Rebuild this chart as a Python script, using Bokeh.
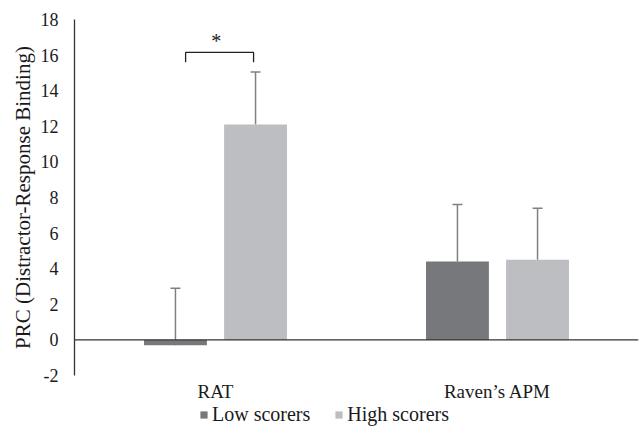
from bokeh.plotting import figure
from bokeh.layouts import column
from bokeh.models import (Range1d, FixedTicker, Span, Whisker, TeeHead, ColumnDataSource,
                          Legend, LegendItem, Label)
from bokeh.embed import file_html
from bokeh.resources import INLINE

# ---- data ----
categories = ["RAT", "Raven\u2019s APM"]
low_scores = [-0.3, 4.4]
high_scores = [12.1, 4.5]
low_err = [3.2, 3.2]
high_err = [2.95, 2.9]
y_ticks = [-2, 0, 2, 4, 6, 8, 10, 12, 14, 16, 18]
series_names = ["Low scorers", "High scorers"]

LOW_C = "#77787b"
HIGH_C = "#bdbec1"
ERR_C = "#808080"
AX_C = "#333333"
TXT_C = "#1a1a1a"
FONT = "Liberation Serif"

cat_x = [i + 0.5 for i in range(len(categories))]
off = 0.142
bw = 0.223
low_x = [c - off for c in cat_x]
high_x = [c + off for c in cat_x]

xr = Range1d(0, len(categories))

p = figure(width=640, height=404, output_backend="svg", toolbar_location=None,
           x_range=xr, y_range=Range1d(-2, 18),
           min_border_left=74, min_border_right=2, min_border_top=19, min_border_bottom=27)
p.outline_line_color = None
p.xgrid.visible = False
p.ygrid.visible = False
p.background_fill_color = "white"

src_low = ColumnDataSource(dict(x=low_x, top=low_scores,
                                upper=[v + e for v, e in zip(low_scores, low_err)]))
src_high = ColumnDataSource(dict(x=high_x, top=high_scores,
                                 upper=[v + e for v, e in zip(high_scores, high_err)]))

p.vbar(x="x", top="top", bottom=0, width=bw, source=src_low,
       fill_color=LOW_C, line_color=None)
p.vbar(x="x", top="top", bottom=0, width=bw, source=src_high,
       fill_color=HIGH_C, line_color=None)

# zero line
p.add_layout(Span(location=0, dimension="width", line_color=AX_C, line_width=1.3))

for src in (src_low, src_high):
    w = Whisker(base="x", lower="top", upper="upper", source=src, dimension="height",
                line_color=ERR_C, line_width=1.5,
                upper_head=TeeHead(size=10, line_color=ERR_C, line_width=1.5),
                lower_head=None)
    p.add_layout(w)

# significance bracket over RAT
bx0 = cat_x[0] - 0.106
bx1 = cat_x[0] + 0.135
by_top = 16.15
by_bot = 15.6
p.line([bx0, bx0, bx1, bx1], [by_bot, by_top, by_top, by_bot], line_color="#222222", line_width=1.3)
p.add_layout(Label(x=cat_x[0] + 0.003, y=by_top + 0.05, text="*", text_font=FONT,
                   text_font_size="20px", text_align="center", text_baseline="bottom",
                   text_color=TXT_C))

# y axis
p.yaxis.ticker = FixedTicker(ticks=y_ticks)
p.yaxis.major_label_overrides = {t: str(t) for t in y_ticks}
p.yaxis.axis_line_color = AX_C
p.yaxis.axis_line_width = 1.3
p.yaxis.major_tick_line_color = None
p.yaxis.minor_tick_line_color = None
p.yaxis.major_tick_out = 0
p.yaxis.major_tick_in = 0
p.yaxis.major_label_standoff = 16
p.yaxis.major_label_text_font = FONT
p.yaxis.major_label_text_font_size = "18px"
p.yaxis.major_label_text_color = TXT_C
p.yaxis.axis_label = "PRC (Distractor-Response Binding)"
p.yaxis.axis_label_text_font = FONT
p.yaxis.axis_label_text_font_size = "21px"
p.yaxis.axis_label_text_font_style = "normal"
p.yaxis.axis_label_text_color = TXT_C
p.yaxis.axis_label_standoff = 3

# x axis (categories)
p.xaxis.ticker = FixedTicker(ticks=cat_x)
p.xaxis.major_label_overrides = {c: lab for c, lab in zip(cat_x, categories)}
p.xaxis.axis_line_color = None
p.xaxis.major_tick_line_color = None
p.xaxis.minor_tick_line_color = None
p.xaxis.major_tick_out = 0
p.xaxis.major_tick_in = 0
p.xaxis.major_label_standoff = 5
p.xaxis.major_label_text_font = FONT
p.xaxis.major_label_text_font_size = "19px"
p.xaxis.major_label_text_color = TXT_C

# ---- legend strip below the chart ----
lg = figure(width=640, height=27, output_backend="svg", toolbar_location=None,
            x_range=xr, y_range=Range1d(0, 1),
            min_border_left=74, min_border_right=2, min_border_top=0, min_border_bottom=0)
lg.outline_line_color = None
lg.axis.visible = False
lg.grid.visible = False
lg.extra_y_ranges = {"hidden": Range1d(100, 101)}
l_low = lg.vbar(x="x", top="top", bottom=0, width=bw, source=src_low,
                fill_color=LOW_C, line_color=None, y_range_name="hidden")
l_high = lg.vbar(x="x", top="top", bottom=0, width=bw, source=src_high,
                 fill_color=HIGH_C, line_color=None, y_range_name="hidden")
legend = Legend(items=[LegendItem(label=series_names[0], renderers=[l_low]),
                       LegendItem(label=series_names[1], renderers=[l_high])],
                orientation="horizontal", location=(125, 5),
                glyph_width=9, glyph_height=9, label_standoff=4, spacing=24,
                padding=0, margin=0, border_line_color=None, background_fill_alpha=0,
                label_text_font=FONT, label_text_font_size="20px", label_text_color=TXT_C,
                label_height=20)
lg.add_layout(legend, "center")

layout = column(p, lg, spacing=0)
open("out.html", "w").write(file_html(layout, INLINE))
